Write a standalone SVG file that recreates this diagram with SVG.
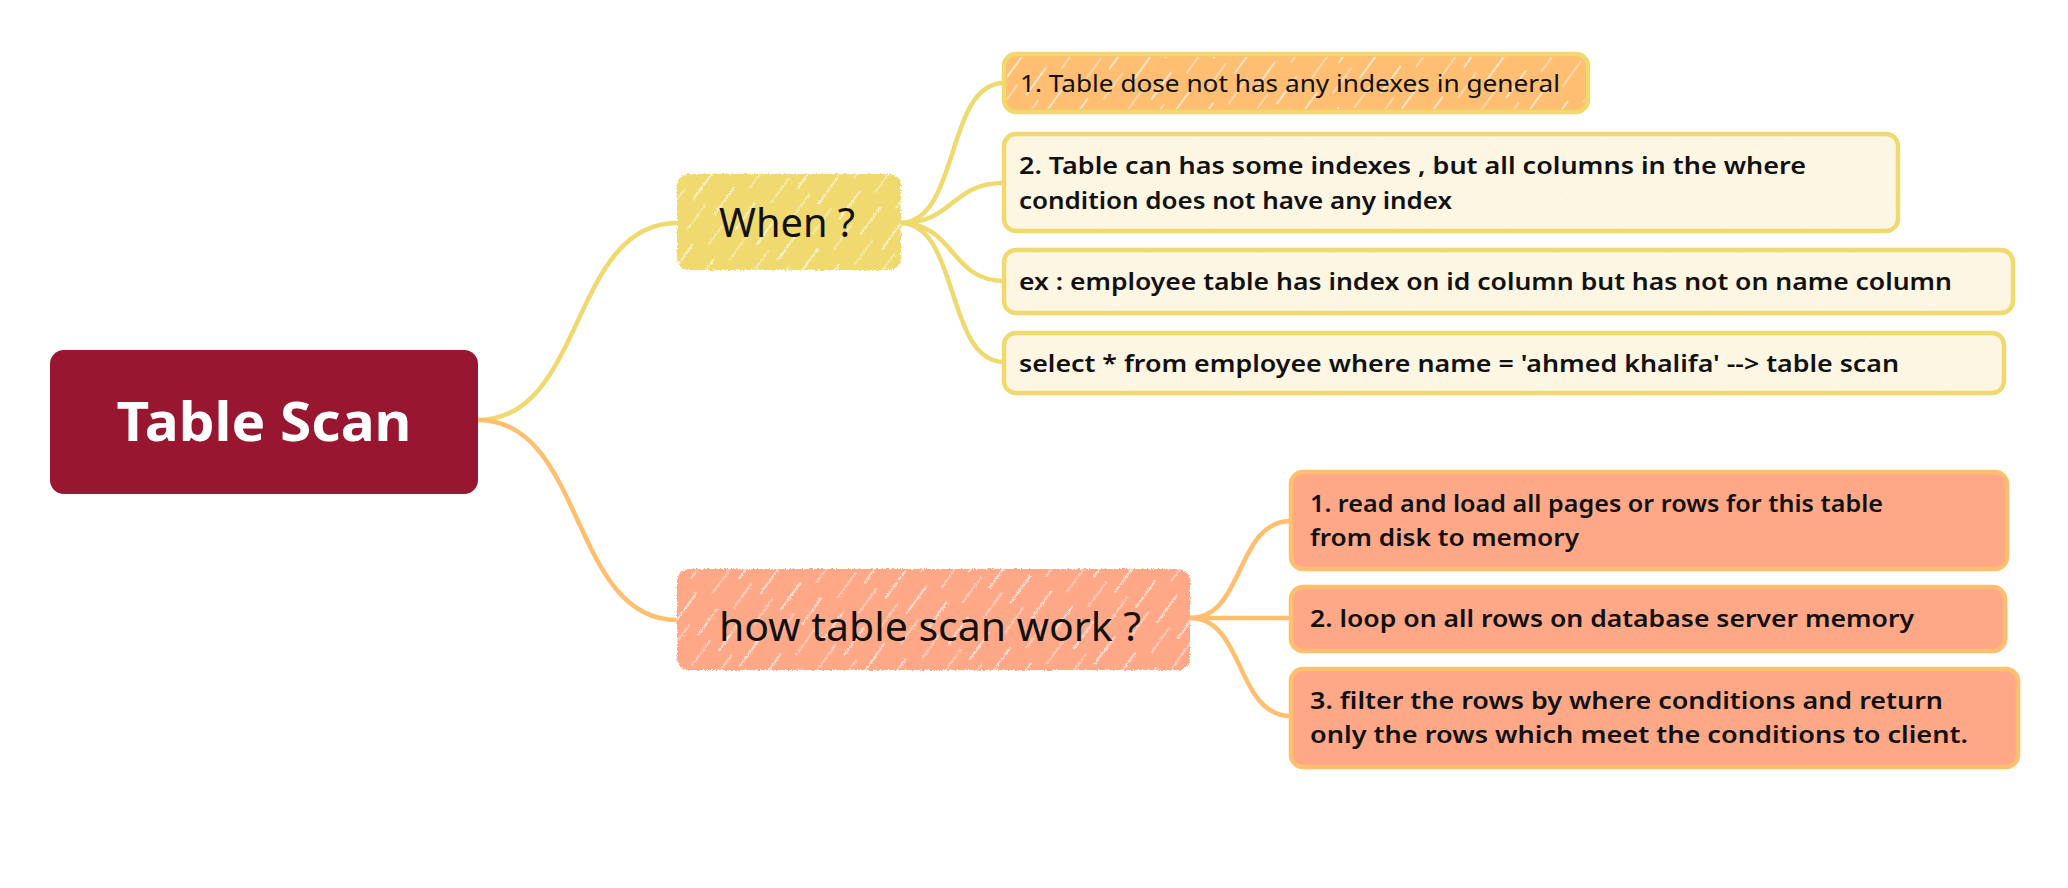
<svg xmlns="http://www.w3.org/2000/svg" width="2068" height="888" viewBox="0 0 2068 888">
<style>
.t{font-family:"Noto Sans","Liberation Sans",sans-serif;fill:#111;}
.c{font-size:24px;}
.b{font-weight:600;}
.conn path{fill:none;stroke-width:4.5;stroke-linecap:round;}
.y{stroke:#f0d96e;}
.o{stroke:#ffbf6f;}
</style>
<defs>
<pattern id="hatch" width="26" height="70" patternUnits="userSpaceOnUse" patternTransform="rotate(36)">
<line x1="2" y1="0" x2="2" y2="34" stroke="#fff" stroke-width="1.5" stroke-opacity="0.8"/>
<line x1="15" y1="30" x2="15" y2="62" stroke="#fff" stroke-width="1.2" stroke-opacity="0.65"/>
</pattern>
<pattern id="hatchFaint" width="30" height="60" patternUnits="userSpaceOnUse" patternTransform="rotate(36)">
<line x1="0" y1="0" x2="0" y2="26" stroke="#fff" stroke-width="1.2" stroke-opacity="0.9"/>
</pattern>
<filter id="rough" x="-5%" y="-10%" width="110%" height="120%">
<feTurbulence type="fractalNoise" baseFrequency="0.6" numOctaves="2" seed="3" result="n"/>
<feDisplacementMap in="SourceGraphic" in2="n" scale="4" xChannelSelector="R" yChannelSelector="G"/>
</filter>
</defs>
<rect width="2068" height="888" fill="#fff"/>

<g id="connectors" class="conn">
<path class="y" d="M478,420 C585,420 570,223 677,223"/>
<path class="o" d="M478,420 C585,420 570,620 677,620"/>
<path class="y" d="M900,223 C960,223 945,83 1004,83"/>
<path class="y" d="M900,223 C955,223 950,183 1004,183"/>
<path class="y" d="M900,223 C955,223 950,281 1004,281"/>
<path class="y" d="M900,223 C960,223 945,362 1004,362"/>
<path class="o" d="M1190,618 C1245,618 1235,521 1291,521"/>
<path class="o" d="M1190,618 L1291,618"/>
<path class="o" d="M1190,618 C1245,618 1235,716 1291,716"/>
</g>

<g id="root">
<rect x="50" y="350" width="428" height="144" rx="14" fill="#98162f"/>
<text class="t" x="264" y="441" text-anchor="middle" font-size="54" font-weight="700" style="fill:#fff" textLength="295" lengthAdjust="spacingAndGlyphs">Table Scan</text>
</g>

<g id="when">
<g filter="url(#rough)">
<rect x="677" y="174" width="224" height="96" rx="12" fill="#f0d96e"/>
<rect x="677" y="174" width="224" height="96" rx="12" fill="url(#hatch)"/>
</g>
<text class="t" x="787" y="237" text-anchor="middle" font-size="40" textLength="136" lengthAdjust="spacingAndGlyphs">When ?</text>
</g>

<g id="how">
<g filter="url(#rough)">
<rect x="677" y="569" width="513" height="101" rx="12" fill="#ffa888"/>
<rect x="677" y="569" width="513" height="101" rx="12" fill="url(#hatch)"/>
</g>
<text class="t" x="930" y="641" text-anchor="middle" font-size="40" textLength="422" lengthAdjust="spacingAndGlyphs">how table scan work ?</text>
</g>

<g id="when-1">
<rect x="1004" y="54" width="584" height="58" rx="12" fill="#ffbe72" stroke="#f0d96e" stroke-width="4.5"/>
<rect x="1007" y="57" width="578" height="52" rx="10" fill="url(#hatch)"/>
<text class="t c" x="1020" y="92" textLength="540" lengthAdjust="spacingAndGlyphs">1. Table dose not has any indexes in general</text>
</g>

<g id="when-2">
<rect x="1004" y="134" width="894" height="97" rx="12" fill="#fdf6e2" stroke="#f0d96e" stroke-width="4.5"/>
<rect x="1007" y="137" width="888" height="91" rx="10" fill="url(#hatchFaint)" opacity="0.7"/>
<text class="t c b" x="1019" y="174" textLength="787" lengthAdjust="spacingAndGlyphs">2. Table can has some indexes , but all columns in the where</text>
<text class="t c b" x="1019" y="209" textLength="433" lengthAdjust="spacingAndGlyphs">condition does not have any index</text>
</g>

<g id="when-3">
<rect x="1004" y="250" width="1009" height="63" rx="12" fill="#fdf6e2" stroke="#f0d96e" stroke-width="4.5"/>
<rect x="1007" y="253" width="1003" height="57" rx="10" fill="url(#hatchFaint)" opacity="0.7"/>
<text class="t c b" x="1019" y="290" textLength="933" lengthAdjust="spacingAndGlyphs">ex : employee table has index on id column but has not on name column</text>
</g>

<g id="when-4">
<rect x="1004" y="333" width="1000" height="60" rx="12" fill="#fdf6e2" stroke="#f0d96e" stroke-width="4.5"/>
<rect x="1007" y="336" width="994" height="54" rx="10" fill="url(#hatchFaint)" opacity="0.7"/>
<text class="t c b" x="1019" y="372" textLength="880" lengthAdjust="spacingAndGlyphs">select * from employee where name = 'ahmed khalifa' --&gt; table scan</text>
</g>

<g id="how-1">
<rect x="1291" y="472" width="716" height="97" rx="12" fill="#ffa888" stroke="#ffbf6f" stroke-width="4.5"/>
<text class="t c b" x="1310" y="512" textLength="573" lengthAdjust="spacingAndGlyphs">1. read and load all pages or rows for this table</text>
<text class="t c b" x="1310" y="546" textLength="269" lengthAdjust="spacingAndGlyphs">from disk to memory</text>
</g>

<g id="how-2">
<rect x="1291" y="587" width="714" height="64" rx="12" fill="#ffa888" stroke="#ffbf6f" stroke-width="4.5"/>
<text class="t c b" x="1310" y="627" textLength="604" lengthAdjust="spacingAndGlyphs">2. loop on all rows on database server memory</text>
</g>

<g id="how-3">
<rect x="1291" y="669" width="727" height="98" rx="12" fill="#ffa888" stroke="#ffbf6f" stroke-width="4.5"/>
<text class="t c b" x="1310" y="709" textLength="633" lengthAdjust="spacingAndGlyphs">3. filter the rows by where conditions and return</text>
<text class="t c b" x="1310" y="743" textLength="658" lengthAdjust="spacingAndGlyphs">only the rows which meet the conditions to client.</text>
</g>
</svg>
